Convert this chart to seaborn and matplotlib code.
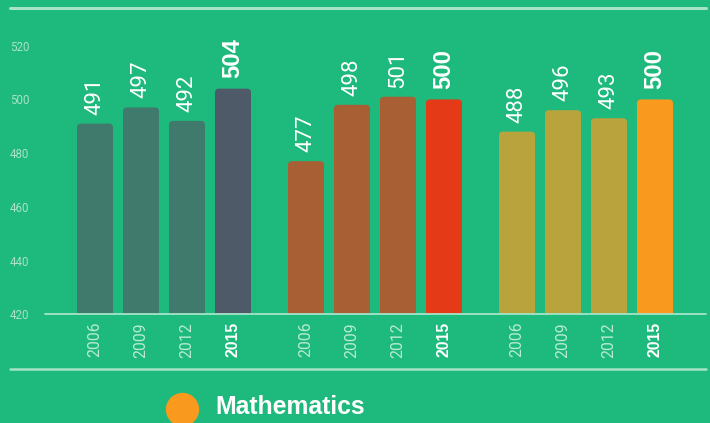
import matplotlib
matplotlib.use("Agg")
import matplotlib.pyplot as plt
import seaborn as sns
import pandas as pd
from matplotlib import font_manager
from matplotlib.patches import FancyBboxPatch
from matplotlib.lines import Line2D

# ---------------- data ----------------
years = ["2006", "2009", "2012", "2015"]
subjects = ["Science", "Reading", "Mathematics"]
science = [491, 497, 492, 504]
reading = [477, 498, 501, 500]
mathematics = [488, 496, 493, 500]
y_ticks = [420, 440, 460, 480, 500, 520]
legend_label = "Mathematics"

# ---------------- style ----------------
bg = "#1EB97C"
light_line = "#A6E3C9"
tick_col = "#B8EBD5"
ytick_col = "#A8E2C9"
past_colors = ["#3F7A6C", "#A85F33", "#B9A33C"]
latest_colors = ["#4E5A67", "#E53A17", "#F99A1F"]

sns.set_style("white", {"axes.facecolor": bg, "figure.facecolor": bg})
plt.rcParams["font.family"] = ["Liberation Sans", "DejaVu Sans"]

names = {f.name for f in font_manager.fontManager.ttflist}
thin_family = ["Roboto", "DejaVu Sans"] if "Roboto" in names else ["Liberation Sans", "DejaVu Sans"]
thin_weight = "normal"

# ---------------- table ----------------
group_step = 211 / 46  # group spacing in bar-step units
rows = []
palette = {}
for g, (subj, vals) in enumerate(zip(subjects, [science, reading, mathematics])):
    for i, (yr, v) in enumerate(zip(years, vals)):
        key = f"{subj} {yr}"
        rows.append({"pos": g * group_step + i, "score": v, "bar": key,
                     "year": yr, "latest": i == len(years) - 1})
        palette[key] = latest_colors[g] if i == len(years) - 1 else past_colors[g]
df = pd.DataFrame(rows)

W, H = 710, 423
fig = plt.figure(figsize=(W / 100, H / 100), dpi=100)
fig.patch.set_facecolor(bg)

y0_px = 314.3
px_per_unit = 2.686
ymin, ymax = 420, 530
ax_h = (ymax - ymin) * px_per_unit
ax_left, ax_right = 45, 706
ax = fig.add_axes([ax_left / W, (H - y0_px) / H, (ax_right - ax_left) / W, ax_h / H])
ax.set_facecolor(bg)

sns.barplot(data=df, x="pos", y="score", hue="bar", palette=palette,
            native_scale=True, dodge=False, legend=False, width=36 / 46,
            saturation=1, ax=ax, errorbar=None)

first_center_px = 95
ax.set_xlim((ax_left - first_center_px) / 46, (ax_right - first_center_px) / 46)
ax.set_ylim(ymin, ymax)

# rounded tops
radius_px = 4
aspect = 46 / px_per_unit
for p in list(ax.patches):
    x0, w, h = p.get_x(), p.get_width(), p.get_height()
    fc = p.get_facecolor()
    p.set_visible(False)
    rb = FancyBboxPatch((x0, ymin - 20), w, h - (ymin - 20),
                        boxstyle=f"round,pad=0,rounding_size={radius_px / 46}",
                        mutation_aspect=aspect, facecolor=fc, edgecolor="none",
                        zorder=2)
    ax.add_patch(rb)

# value labels
for _, r in df.iterrows():
    if r["latest"]:
        ax.annotate(str(r["score"]), xy=(r["pos"], r["score"]), xytext=(0, 7.5),
                    textcoords="offset points", rotation=90, ha="center",
                    va="bottom", color="white", fontsize=17.2, fontweight="bold")
    else:
        ax.annotate(str(r["score"]), xy=(r["pos"], r["score"]), xytext=(0, 6.5),
                    textcoords="offset points", rotation=90, ha="center",
                    va="bottom", color="white", fontsize=16,
                    family=thin_family, fontweight=thin_weight)

# x ticks
ax.set_xticks(df["pos"])
ax.set_xticklabels(df["year"], rotation=90)
for lbl, latest in zip(ax.get_xticklabels(), df["latest"]):
    lbl.set_va("top")
    lbl.set_ha("center")
    if latest:
        lbl.set_color("white")
        lbl.set_fontweight("bold")
        lbl.set_fontsize(11.3)
    else:
        lbl.set_color(tick_col)
        lbl.set_fontsize(11.3)
        lbl.set_family(thin_family)
        lbl.set_fontweight(thin_weight)
ax.tick_params(axis="x", length=0, pad=5.5)

# y ticks
ax.set_yticks(y_ticks)
ax.set_yticklabels([str(t) for t in y_ticks])
ax.tick_params(axis="y", length=0, pad=(ax_left - 10) * 0.72, labelsize=8.3,
               labelcolor=ytick_col)
for lbl in ax.get_yticklabels():
    lbl.set_ha("left")
    lbl.set_family(thin_family)
    lbl.set_fontweight(thin_weight)

ax.set_xlabel("")
ax.set_ylabel("")
for s in ax.spines.values():
    s.set_visible(False)
ax.grid(False)
ax.axhline(ymin, color=light_line, lw=1.3, clip_on=False, zorder=3)

# decorative rules
fig.add_artist(Line2D([10 / W, 706 / W], [1 - 8 / H, 1 - 8 / H],
                      color=light_line, lw=2.2))
fig.add_artist(Line2D([10 / W, 706 / W], [1 - 369.3 / H, 1 - 369.3 / H],
                      color=light_line, lw=1.8))

# legend
fig.add_artist(Line2D([182 / W], [1 - 409 / H], marker="o", markersize=24,
                      markerfacecolor=latest_colors[2], markeredgewidth=0,
                      linestyle="none"))
fig.text(215 / W, 1 - 407 / H, legend_label, ha="left", va="center",
         fontsize=17.8, fontweight="bold", color="white")

fig.savefig("out.png", dpi=100, facecolor=bg)
